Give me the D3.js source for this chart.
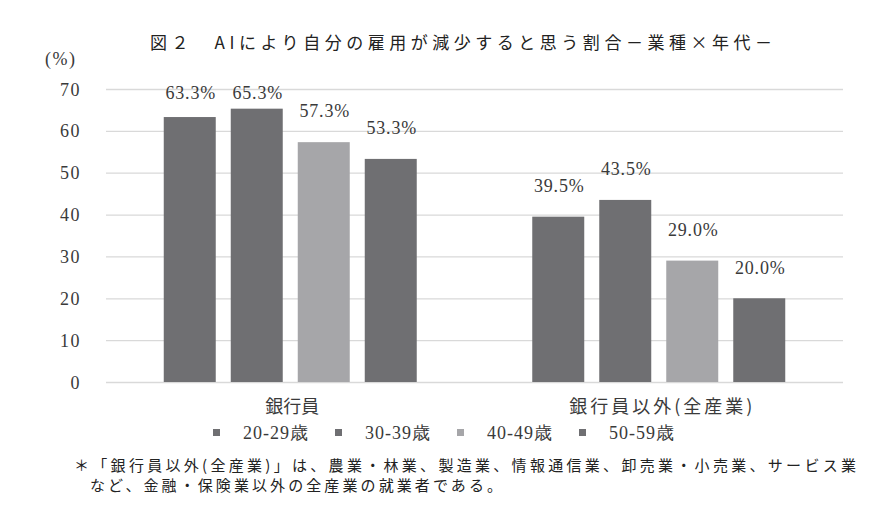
<!DOCTYPE html>
<html><head><meta charset="utf-8">
<script src="https://cdn.jsdelivr.net/npm/d3@7"></script>
<style>
body{margin:0;background:#fff;}
svg{display:block;}
</style>
</head><body>
<svg id="chart" width="895" height="506"></svg>
<script>
const categories = ["銀行員", "銀行員以外(全産業)"];
const series = ["20-29歳", "30-39歳", "40-49歳", "50-59歳"];
const values = {
  "20-29歳": [63.3, 39.5],
  "30-39歳": [65.3, 43.5],
  "40-49歳": [57.3, 29.0],
  "50-59歳": [53.3, 20.0]
};
const yTicks = [0, 10, 20, 30, 40, 50, 60, 70];
const titleText = "図２　AIにより自分の雇用が減少すると思う割合－業種×年代－";
const unitText = "(%)";
const noteLines = [
  "＊「銀行員以外(全産業)」は、農業・林業、製造業、情報通信業、卸売業・小売業、サービス業",
  "など、金融・保険業以外の全産業の就業者である。"
];

const colors = {"20-29歳":"#6f6f72","30-39歳":"#6f6f72","40-49歳":"#a6a6a9","50-59歳":"#6f6f72"};
const jp = "'Noto Sans CJK JP', sans-serif";
const num = "'Liberation Serif', 'DejaVu Serif', serif";

const svg = d3.select("#chart");
const mLeft = 106, mRight = 843, mTop = 89, mBottom = 382;

const x0 = d3.scaleBand().domain(categories).range([mLeft, mRight]).padding(0);
const x1 = d3.scaleBand().domain(series).range([0, x0.bandwidth()])
  .paddingInner(0.224).paddingOuter(0.862);
const y = d3.scaleLinear().domain([0, 70]).range([mBottom, mTop]);

// gridlines
const yAxis = d3.axisLeft(y).tickValues(yTicks).tickSize(-(mRight-mLeft)).tickPadding(25).tickFormat(d3.format("d"));
const gAxis = svg.append("g").attr("transform", `translate(${mLeft},0)`).call(yAxis);
gAxis.select(".domain").remove();
gAxis.selectAll(".tick line").attr("stroke", "#d9d9d9").attr("stroke-width", 1.3);
gAxis.selectAll(".tick text")
  .attr("font-family", num).attr("font-size", 18).attr("fill", "#3a3a3a")
  .attr("letter-spacing", 1.5).attr("dy", "0.34em");

// bars
const rows = [];
categories.forEach((c, i) => series.forEach(s => rows.push({cat: c, ser: s, v: values[s][i]})));
svg.append("g").selectAll("rect").data(rows).join("rect")
  .attr("x", d => x0(d.cat) + x1(d.ser))
  .attr("width", x1.bandwidth())
  .attr("y", d => y(d.v))
  .attr("height", d => y(0) - y(d.v))
  .attr("fill", d => colors[d.ser]);

// value labels
svg.append("g").selectAll("text").data(rows).join("text")
  .attr("x", d => x0(d.cat) + x1(d.ser) + x1.bandwidth()/2 + 1)
  .attr("y", d => Math.max(y(d.v) - 31, 93))
  .attr("dy", "0.35em")
  .attr("text-anchor", "middle")
  .attr("font-family", num).attr("font-size", 18).attr("fill", "#3a3a3a")
  .attr("letter-spacing", 0.8)
  .text(d => d.v.toFixed(1) + "%");

// category labels
const catWidths = [54, 183];
svg.append("g").selectAll("text").data(categories).join("text")
  .attr("x", (d, i) => x0(d) + x0.bandwidth()/2 - catWidths[i]/2 + 2)
  .attr("y", 407).attr("dy", "0.35em")
  .attr("font-family", jp).attr("font-size", 18).attr("fill", "#3a3a3a")
  .attr("textLength", (d, i) => catWidths[i]).attr("lengthAdjust", "spacing")
  .text(d => d);

// legend
const legX = [213, 335, 457, 579];
const leg = svg.append("g").selectAll("g").data(series).join("g")
  .attr("transform", (d, i) => `translate(${legX[i]},432.5)`);
leg.append("rect").attr("x", 0).attr("y", -3.5).attr("width", 7).attr("height", 7)
  .attr("fill", d => colors[d]);
leg.append("text").attr("x", 30).attr("y", 0).attr("dy", "0.35em")
  .attr("font-family", num).attr("font-size", 18).attr("fill", "#3a3a3a")
  .attr("letter-spacing", 1)
  .text(d => d);

// title
svg.append("text").attr("x", 150).attr("y", 43).attr("dy", "0.35em")
  .attr("font-family", jp).attr("font-size", 17).attr("font-weight", 400).attr("fill", "#222")
  .attr("textLength", 622).attr("lengthAdjust", "spacing")
  .text(titleText);

// unit
svg.append("text").attr("x", 45).attr("y", 59).attr("dy", "0.35em")
  .attr("font-family", num).attr("font-size", 18).attr("fill", "#3a3a3a")
  .attr("letter-spacing", 1.5)
  .text(unitText);

// note
svg.append("text").attr("x", 74).attr("y", 466).attr("dy", "0.35em")
  .attr("font-family", jp).attr("font-size", 15).attr("fill", "#222")
  .attr("textLength", 782).attr("lengthAdjust", "spacing")
  .text(noteLines[0]);
svg.append("text").attr("x", 90).attr("y", 486).attr("dy", "0.35em")
  .attr("font-family", jp).attr("font-size", 15).attr("fill", "#222")
  .attr("textLength", 412).attr("lengthAdjust", "spacing")
  .text(noteLines[1]);
</script>
</body></html>
